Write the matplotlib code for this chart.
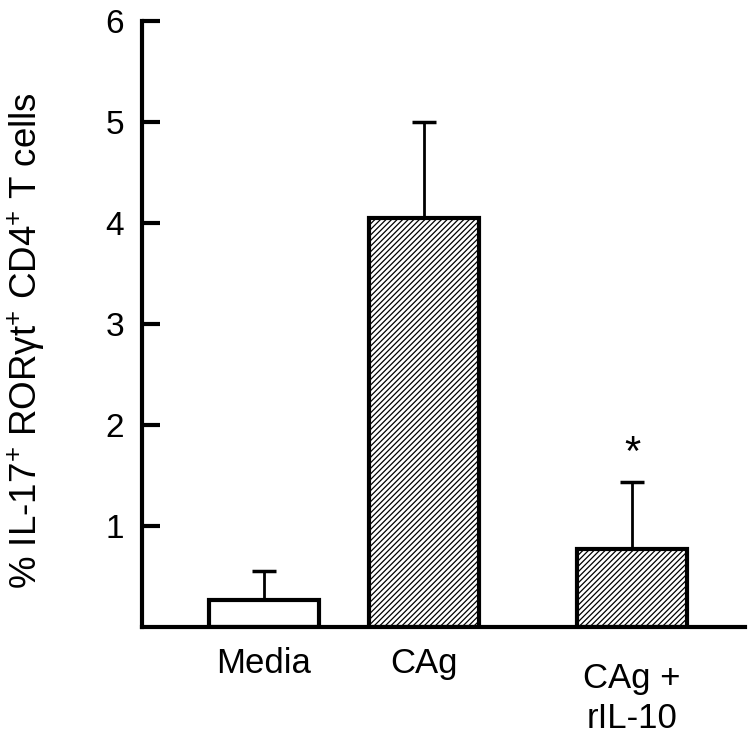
import matplotlib
matplotlib.use('Agg')
import matplotlib.pyplot as plt
import numpy as np

plt.rcParams['font.family'] = ['Liberation Sans', 'DejaVu Sans']
plt.rcParams['mathtext.fontset'] = 'custom'
plt.rcParams['mathtext.rm'] = 'Liberation Sans'
plt.rcParams['mathtext.it'] = 'Liberation Sans:italic'
plt.rcParams['hatch.linewidth'] = 0.9

categories = ['Media', 'CAg', 'CAg +\nrIL-10']
positions = [1.0, 2.0, 3.3]
means = [0.27, 4.05, 0.77]
errors = [0.28, 0.95, 0.66]
hatches = ['', '//////', '//////']
significant = [False, False, True]
label_drop = [0, 0, 15]  # px, third label sits a bit lower

fig = plt.figure(figsize=(7.5, 7.38), dpi=100)
ax = fig.add_axes([0.1893, 0.1504, 0.804, 0.8216])

# error bars first so bar outline sits on top
ax.errorbar(positions, means, yerr=[np.zeros(len(means)), errors], fmt='none',
            ecolor='black', elinewidth=2, capsize=8.5, capthick=2.5, zorder=1)
ax.bar(positions, means, width=0.69, color='white', edgecolor='black',
       linewidth=3, hatch=hatches, zorder=2)

for x, m, e, sig in zip(positions, means, errors, significant):
    if sig:
        ax.text(x, m + e + 0.08, '*', ha='center', va='bottom', fontsize=30)

ax.set_xlim(0.2375, 4.006)
ax.set_ylim(0, 6)
ax.set_yticks([1, 2, 3, 4, 5, 6])
ax.set_xticks([])
trans = ax.get_xaxis_transform()
for x, lbl, d in zip(positions, categories, label_drop):
    ax.text(x, -0.033 - d / 606, lbl, transform=trans, ha='center', va='top',
            fontsize=25, linespacing=1.25)

ax.tick_params(axis='y', direction='in', length=13, width=3, labelsize=24, pad=13)

for s in ['top', 'right']:
    ax.spines[s].set_visible(False)
for s in ['left', 'bottom']:
    ax.spines[s].set_linewidth(3)

fig.text(0.035, 0.539, '% IL-17$^{+}$ RORγt$^{+}$ CD4$^{+}$ T cells', fontsize=26.5,
         rotation=90, ha='center', va='center')

plt.savefig('out.png', dpi=100)
plt.close()
